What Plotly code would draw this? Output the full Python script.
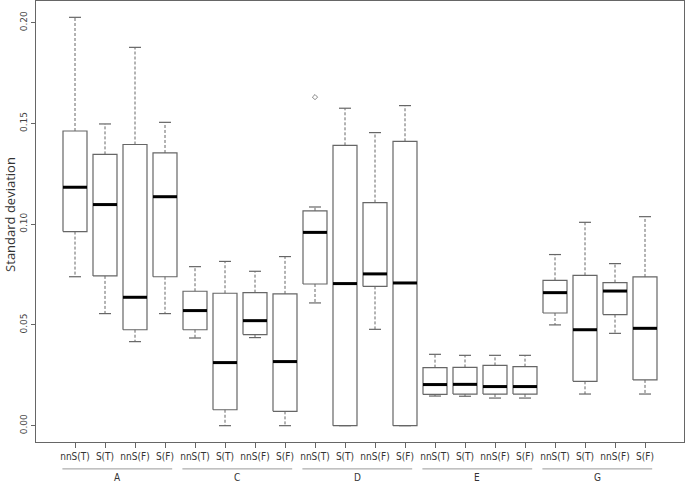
import plotly.graph_objects as go

groups = ["A", "C", "D", "E", "G"]
types = ["nnS(T)", "S(T)", "nnS(F)", "S(F)"]

# box statistics, 4 per group (A, C, D, E, G)
lower = [0.0739, 0.0556, 0.0417, 0.0556,
         0.0435, 0.0000, 0.0437, 0.0000,
         0.0609, 0.0000, 0.0478, 0.0000,
         0.0147, 0.0146, 0.0137, 0.0137,
         0.0500, 0.0157, 0.0458, 0.0157]
q1 = [0.0963, 0.0743, 0.0476, 0.0739,
      0.0476, 0.0079, 0.0452, 0.0071,
      0.0703, 0.0000, 0.0691, 0.0000,
      0.0155, 0.0157, 0.0157, 0.0157,
      0.0559, 0.0220, 0.0551, 0.0227]
median = [0.1183, 0.1097, 0.0637, 0.1136,
          0.0571, 0.0313, 0.0521, 0.0318,
          0.0959, 0.0705, 0.0753, 0.0708,
          0.0204, 0.0205, 0.0194, 0.0194,
          0.0660, 0.0476, 0.0668, 0.0483]
q3 = [0.1462, 0.1346, 0.1395, 0.1353,
      0.0667, 0.0657, 0.0660, 0.0654,
      0.1066, 0.1391, 0.1107, 0.1411,
      0.0288, 0.0289, 0.0299, 0.0293,
      0.0721, 0.0746, 0.0710, 0.0738]
upper = [0.2026, 0.1497, 0.1877, 0.1505,
         0.0789, 0.0815, 0.0766, 0.0839,
         0.1085, 0.1575, 0.1454, 0.1588,
         0.0354, 0.0349, 0.0349, 0.0349,
         0.0849, 0.1009, 0.0804, 0.1037]

outlier_pos = [9]
outlier_val = [0.163]

yticks = [0.00, 0.05, 0.10, 0.15, 0.20]

GREY = "#666666"
HW = 0.4   # half box width
CAP = 0.2  # half cap width

pos = list(range(1, len(median) + 1))

bx, by, mx, my, wx, wy, cx, cy = [], [], [], [], [], [], [], []
for p, lo, a, m, b, hi in zip(pos, lower, q1, median, q3, upper):
    bx += [p - HW, p + HW, p + HW, p - HW, p - HW, None]
    by += [a, a, b, b, a, None]
    mx += [p - HW, p + HW, None]
    my += [m, m, None]
    wx += [p, p, None, p, p, None]
    wy += [b, hi, None, a, lo, None]
    cx += [p - CAP, p + CAP, None, p - CAP, p + CAP, None]
    cy += [hi, hi, None, lo, lo, None]

fig = go.Figure()
fig.add_trace(go.Scatter(x=wx, y=wy, mode="lines",
                         line=dict(color=GREY, width=1, dash="3px,2px")))
fig.add_trace(go.Scatter(x=cx, y=cy, mode="lines",
                         line=dict(color=GREY, width=1.2)))
fig.add_trace(go.Scatter(x=bx, y=by, mode="lines",
                         line=dict(color=GREY, width=1.2)))
fig.add_trace(go.Scatter(x=mx, y=my, mode="lines",
                         line=dict(color="black", width=3)))
fig.add_trace(go.Scatter(x=outlier_pos, y=outlier_val, mode="markers",
                         marker=dict(symbol="diamond-open", size=4,
                                     color=GREY, line=dict(width=0.8))))

# group underlines and labels
for i, g in enumerate(groups):
    x0 = 4 * i + 1 - 0.42
    x1 = 4 * i + 4 + 0.24
    fig.add_shape(type="line", xref="x", yref="paper", x0=x0, x1=x1,
                  y0=-0.061, y1=-0.061, line=dict(color="#999999", width=1))
    fig.add_annotation(x=(x0 + x1) / 2, y=-0.08, xref="x", yref="paper",
                       text=g, showarrow=False, yanchor="middle",
                       font=dict(family="Liberation Sans Narrow, DejaVu Sans Condensed, sans-serif",
                                 size=10, color="#333333"))

fig.add_annotation(x=0, xref="paper", xshift=-26, xanchor="center",
                   y=0.515, yref="paper", yanchor="middle",
                   text="Standard deviation", textangle=-90, showarrow=False,
                   font=dict(family="Open Sans", size=13, color="#333333"))

fig.update_layout(
    width=685, height=485,
    margin=dict(l=36, r=1, t=1, b=43),
    plot_bgcolor="white", paper_bgcolor="white",
    showlegend=False,
    xaxis=dict(range=[-0.3, 21.3], tickvals=pos, ticktext=types * len(groups),
               showgrid=False, zeroline=False, showline=True, mirror=True,
               linecolor=GREY, linewidth=1, ticks="outside", ticklen=5,
               tickcolor=GREY, tickangle=0, automargin=False,
               tickfont=dict(family="Liberation Sans Narrow, DejaVu Sans Condensed, sans-serif",
                             size=10, color="#333333")),
    yaxis=dict(range=[-0.0081, 0.2107], tickvals=yticks,
               ticktext=["%.2f" % v for v in yticks],
               showgrid=False, zeroline=False, showline=True, mirror=True,
               linecolor=GREY, linewidth=1, ticks="outside", ticklen=4,
               tickcolor=GREY, tickangle=-90, automargin=False,
               tickfont=dict(family="DejaVu Sans", size=9, color="#444444")),
)

fig.write_html("out.html", config={"displayModeBar": False},
               post_script="document.body.style.margin='0px';")
